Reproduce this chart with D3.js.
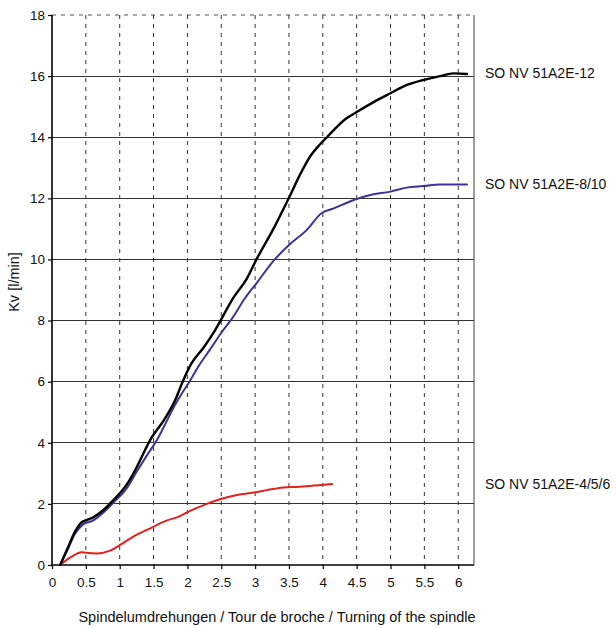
<!DOCTYPE html>
<html><head><meta charset="utf-8">
<script src="https://cdn.jsdelivr.net/npm/d3@7/dist/d3.min.js"></script>
<style>
body{margin:0;background:#fff;}
text{font-family:"Liberation Sans",Arial,sans-serif;fill:#111;}
</style></head>
<body>
<svg id="c" width="616" height="628"></svg>
<script>
const xTicks = [0,0.5,1,1.5,2,2.5,3,3.5,4,4.5,5,5.5,6];
const yTicks = [0,2,4,6,8,10,12,14,16,18];

const seriesNames = ["SO NV 51A2E-12","SO NV 51A2E-8/10","SO NV 51A2E-4/5/6"];

const blackX = [0.12,0.24,0.34,0.44,0.51,0.61,0.76,0.91,1.1,1.23,1.45,1.67,1.82,1.93,2.06,2.24,2.41,2.68,2.88,3.02,3.27,3.5,3.66,3.81,3.96,4.06,4.35,4.49,4.75,5.0,5.24,5.48,5.73,5.93,6.13];
const blackY = [0,0.6,1.09,1.4,1.47,1.56,1.8,2.13,2.62,3.11,4.09,4.8,5.4,6.0,6.6,7.12,7.69,8.75,9.38,10.0,11.0,12.02,12.76,13.36,13.77,14.0,14.62,14.81,15.15,15.44,15.71,15.87,16.0,16.09,16.07];

const blueX = [0.12,0.24,0.34,0.46,0.61,0.76,0.91,1.1,1.25,1.4,1.55,1.67,1.79,1.92,2.03,2.16,2.33,2.53,2.65,2.85,3.02,3.29,3.5,3.76,3.98,4.16,4.5,4.7,5.0,5.24,5.48,5.73,6.13];
const blueY = [0,0.55,1.02,1.33,1.46,1.72,2.05,2.5,3.05,3.58,4.09,4.6,5.13,5.62,6.0,6.49,7.04,7.69,8.04,8.73,9.22,10.0,10.47,10.96,11.51,11.67,11.98,12.11,12.22,12.35,12.40,12.45,12.45];

const redX = [0.12,0.27,0.44,0.51,0.66,0.86,1.0,1.2,1.45,1.69,1.89,2.04,2.24,2.48,2.73,3.0,3.17,3.42,3.66,3.98,4.14];
const redY = [0,0.25,0.42,0.40,0.38,0.47,0.65,0.93,1.2,1.45,1.6,1.77,1.96,2.15,2.29,2.38,2.45,2.54,2.56,2.62,2.65];

const svg = d3.select("#c");
const L = 52, T = 15, R = 474, B = 565;
const x = d3.scaleLinear().domain([0, 6.233]).range([L, R]);
const y = d3.scaleLinear().domain([0, 18]).range([B, T]);

// horizontal gridlines
svg.append("g").selectAll("line").data(yTicks.filter(d => d > 0 && d < 18)).join("line")
  .attr("x1", L).attr("x2", R).attr("y1", d => y(d)).attr("y2", d => y(d))
  .attr("stroke", "#333").attr("stroke-width", 1).attr("shape-rendering","crispEdges");
// top dashed line
svg.append("line").attr("x1", L).attr("x2", R).attr("y1", y(18)).attr("y2", y(18))
  .attr("stroke", "#555").attr("stroke-width", 1.2).attr("stroke-dasharray", "4,5");
// vertical dashed gridlines
svg.append("g").selectAll("line").data(xTicks.filter(d => d > 0)).join("line")
  .attr("x1", d => x(d)).attr("x2", d => x(d)).attr("y1", T).attr("y2", B)
  .attr("stroke", "#333").attr("stroke-width", 1).attr("stroke-dasharray", "4,5");
// right border
svg.append("line").attr("x1", R).attr("x2", R).attr("y1", T).attr("y2", B)
  .attr("stroke", "#444").attr("stroke-width", 1);

// axes
const xAxis = svg.append("g").attr("transform", `translate(0,${B})`)
  .call(d3.axisBottom(x).tickValues(xTicks).tickSize(4).tickPadding(8).tickFormat(d => String(d)));
const yAxis = svg.append("g").attr("transform", `translate(${L},0)`)
  .call(d3.axisLeft(y).tickValues(yTicks).tickSize(4).tickPadding(3).tickFormat(d => String(d)));
[xAxis, yAxis].forEach(a => {
  a.select(".domain").attr("stroke", "#000").attr("stroke-width", 1.6);
  a.selectAll(".tick line").attr("stroke", "#000").attr("stroke-width", 1.2);
  a.selectAll("text").attr("font-size", 13.5).attr("font-family", '"Liberation Sans",Arial,sans-serif').attr("fill", "#111");
});
xAxis.select(".domain").attr("d", `M${L},0H${R}`);
yAxis.select(".domain").attr("d", `M0,${B}V${T}`);

// series
const line = d3.line().x(d => x(d[0])).y(d => y(d[1])).curve(d3.curveMonotoneX);
const series = [
  {xs: redX, ys: redY, color: "#e3201b", w: 2},
  {xs: blueX, ys: blueY, color: "#3b3396", w: 2},
  {xs: blackX, ys: blackY, color: "#000", w: 2.4}
];
series.forEach(s => {
  svg.append("path").datum(s.xs.map((v, i) => [v, s.ys[i]]))
    .attr("d", line).attr("fill", "none").attr("stroke", s.color)
    .attr("stroke-width", s.w).attr("stroke-linejoin", "round").attr("stroke-linecap", "round");
});

// right labels
const ends = [blackY[blackY.length-1], blueY[blueY.length-1], redY[redY.length-1]];
svg.append("g").selectAll("text").data(seriesNames).join("text")
  .attr("x", 485).attr("y", (d, i) => y(ends[i]) + 4.5)
  .attr("font-size", 14).text(d => d);

// axis titles
svg.append("text").attr("x", 277).attr("y", 622).attr("text-anchor", "middle")
  .attr("font-size", 14.5).text("Spindelumdrehungen / Tour de broche / Turning of the spindle");
svg.append("text").attr("transform", "translate(19,282) rotate(-90)").attr("text-anchor", "middle")
  .attr("font-size", 14.5).text("Kv [l/min]");
</script>
</body></html>
